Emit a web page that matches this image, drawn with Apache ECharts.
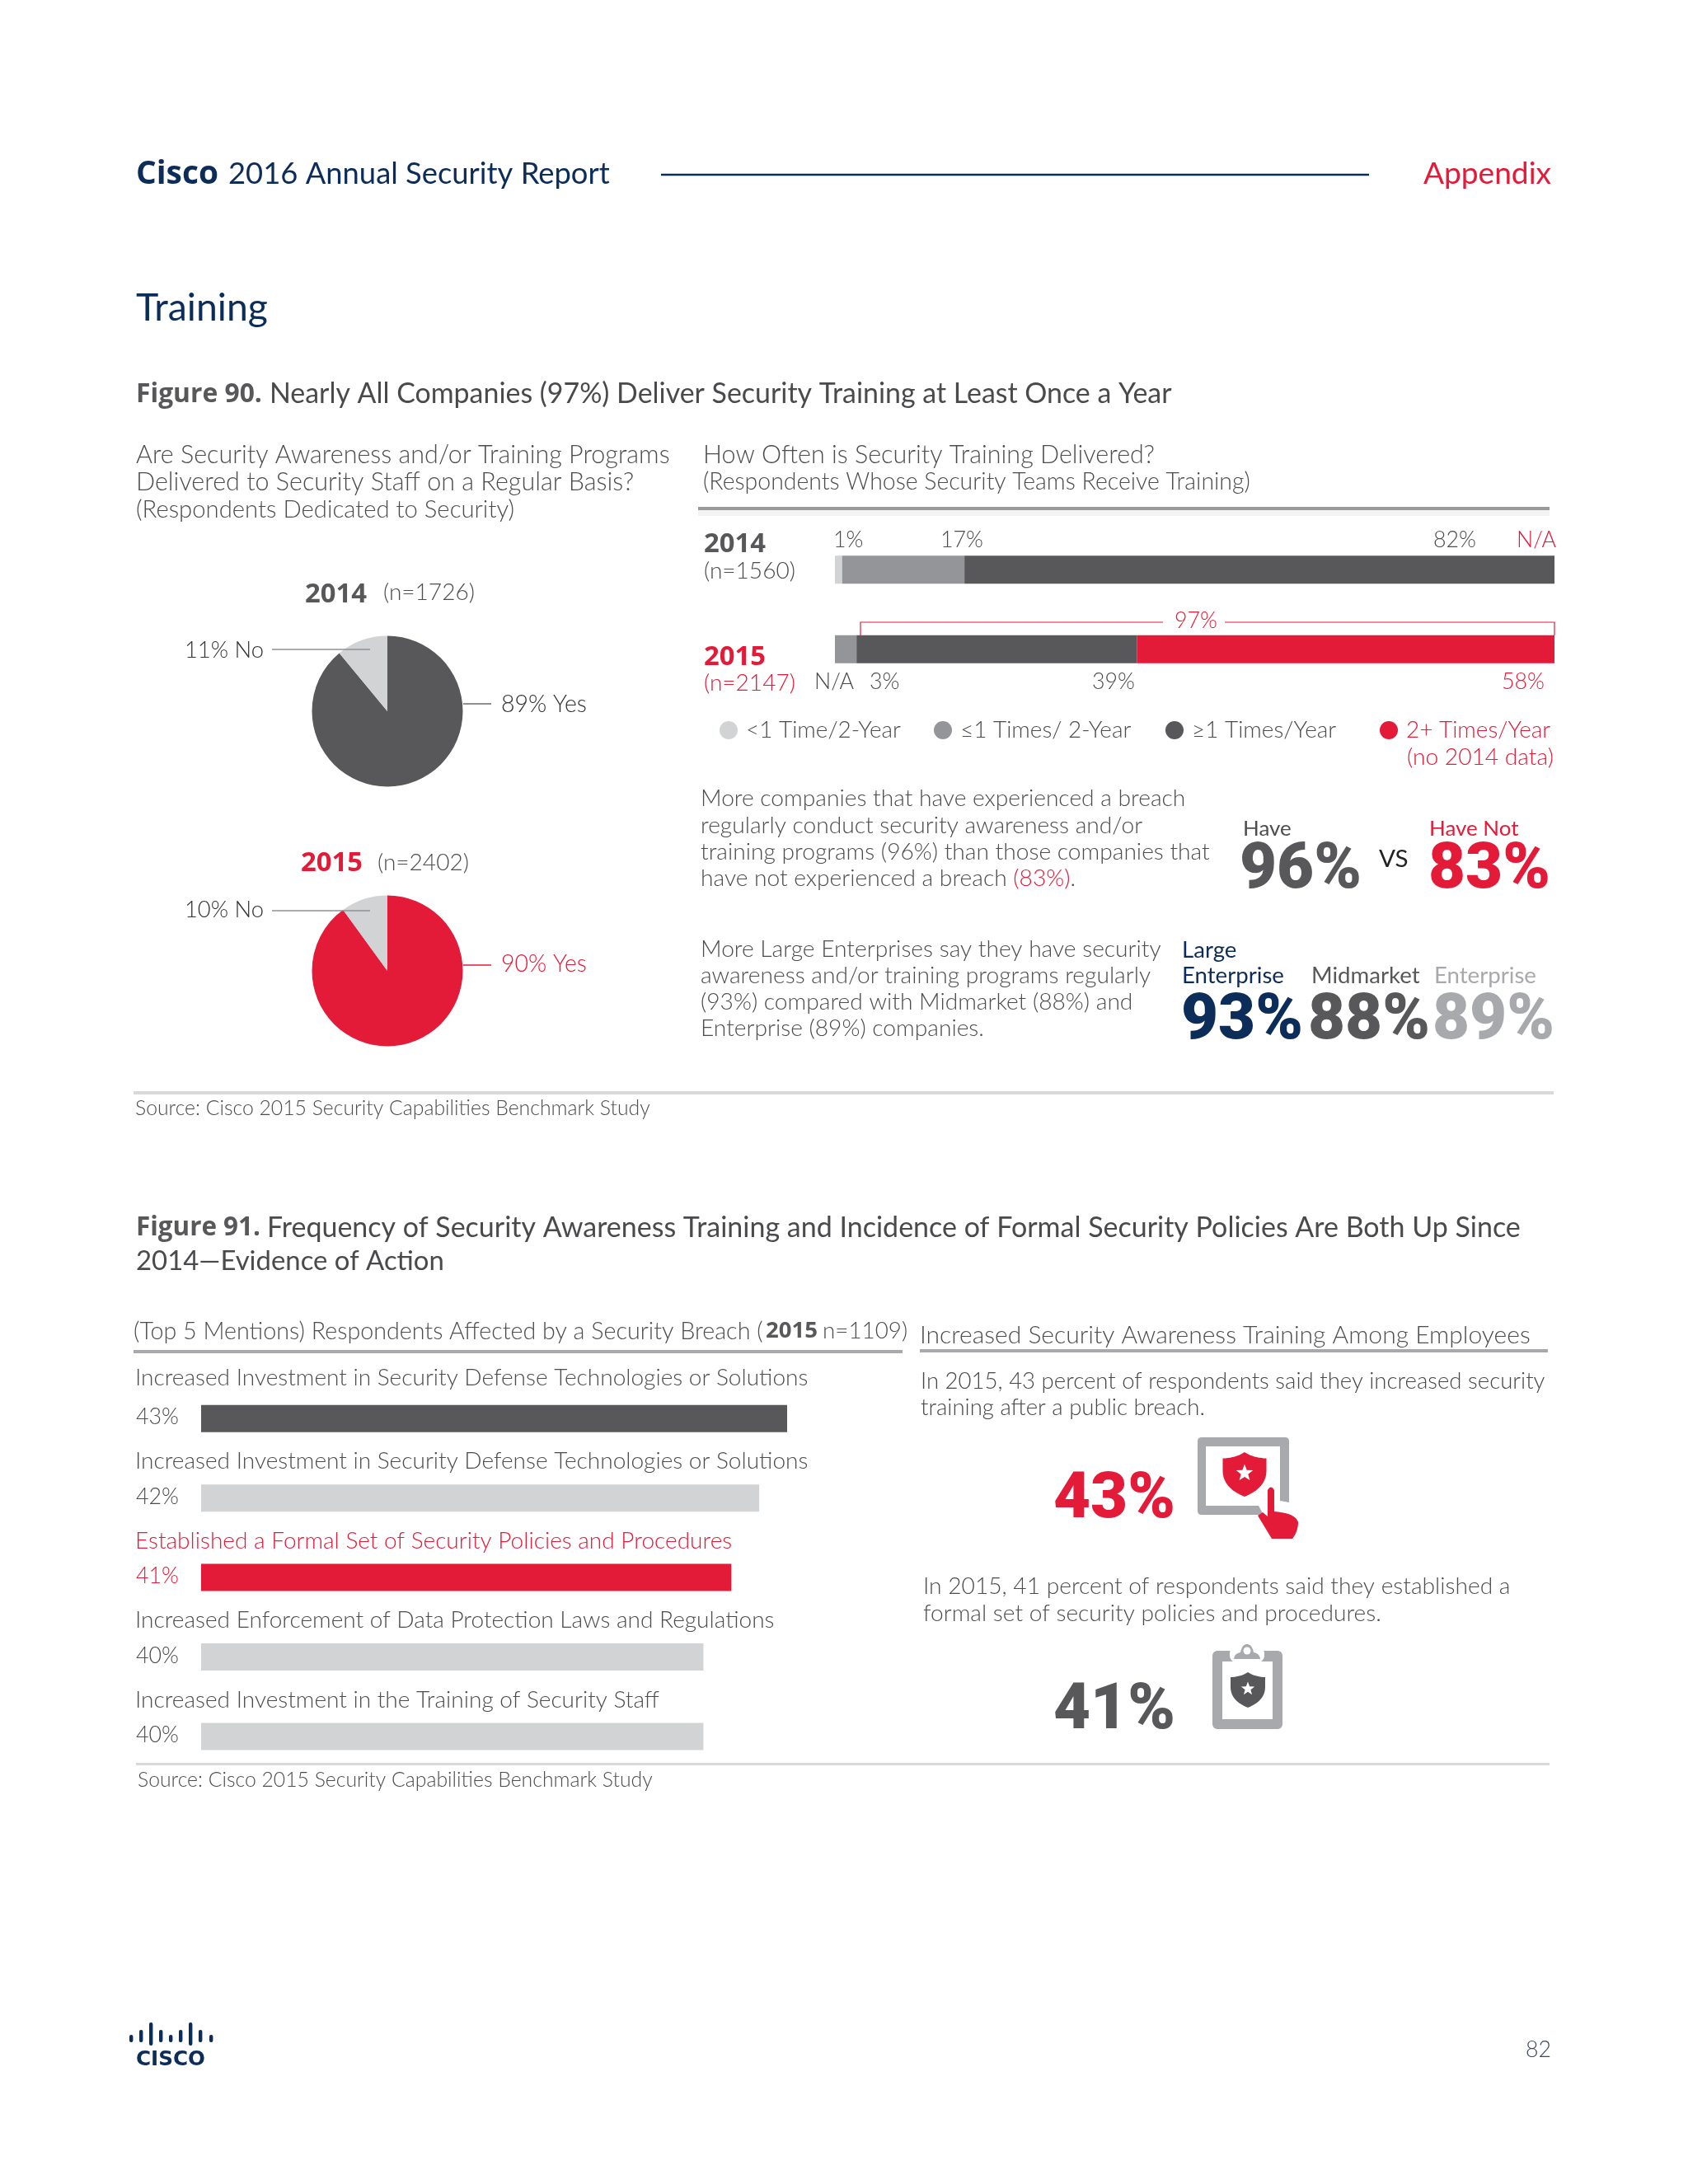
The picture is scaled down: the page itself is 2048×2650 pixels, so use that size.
<!DOCTYPE html>
<html><head><meta charset="utf-8">
<style>html,body{margin:0;padding:0;background:#fff}#c{width:2048px;height:2650px}</style>
<script src="https://cdn.jsdelivr.net/npm/echarts@6/dist/echarts.min.js"></script>
</head><body><div id="c"></div>
<script>
// ---- data ----
const pieNames = ['Yes', 'No'];
const pie2014 = [89, 11];
const pie2015 = [90, 10];
const freqYears = ['2014', '2015'];
const freqNames = ['<1 Time/2-Year', '≤1 Times/ 2-Year', '≥1 Times/Year', '2+ Times/Year'];
const freqLess = [1, 0];
const freqOne = [17, 3];
const freqYear = [82, 39];
const freqTwo = [null, 58];
const mentionNames = [
  'Increased Investment in Security Defense Technologies or Solutions',
  'Increased Investment in Security Defense Technologies or Solutions',
  'Established a Formal Set of Security Policies and Procedures',
  'Increased Enforcement of Data Protection Laws and Regulations',
  'Increased Investment in the Training of Security Staff'];
const mentionValues = [43, 42, 41, 40, 40];
const para1 = ['More companies that have experienced a breach','regularly conduct security awareness and/or','training programs (96%) than those companies that'];
const para2 = ['More Large Enterprises say they have security','awareness and/or training programs regularly','(93%) compared with Midmarket (88%) and','Enterprise (89%) companies.'];

// ---- style ----
const RED='#e31a38', DARK='#58585b', MID='#939598', LIGHT='#d1d3d4', NAVY='#0c2c5a', TXT='#4d4d50', GREY='#a7a9ac';
const BODY='Lato', HEAVY='Roboto', BOLD='"Open Sans"';
const ctx=document.createElement('canvas').getContext('2d');
function fit(text,width,fam=BODY,w=300){ctx.font=`${w} 100px ${fam}`;return 100*width/ctx.measureText(text).width;}
const g=[];
function T(text,x,y,o={}){
  const wt=o.w||300;
  g.push({type:'text',silent:true,z:100,x,y:y+(wt===300?0.3:1.5),style:Object.assign({text,fill:o.fill||TXT,fontFamily:o.fam||BODY,fontWeight:wt,
    fontSize:o.size||(o.width?fit(text,o.width,o.fam||BODY,wt):27),align:o.align||'left',verticalAlign:'middle'},o.rich?{rich:o.rich}:{})});
}
function R(x,y,w,h,fill,r){g.push({type:'rect',silent:true,z:100,shape:{x,y,width:w,height:h,r:r||0},style:{fill}});}
function L(pts,stroke,lw=1.5){g.push({type:'polyline',silent:true,z:100,shape:{points:pts},style:{stroke,lineWidth:lw,fill:null}});}
// outline made of straight and quadratic pieces, flattened into polygon points
function outline(d){
  const tok=d.trim().split(/\s+/);let i=0,pts=[],cx=0,cy=0;
  while(i<tok.length){
    const c=tok[i][0];
    if(c==='Z'){i++;continue;}
    const a=parseFloat(tok[i].slice(1)),b=parseFloat(tok[i+1]);
    if(c==='M'||c==='L'){pts.push([a,b]);cx=a;cy=b;i+=2;}
    else if(c==='Q'){const x=parseFloat(tok[i+2]),y=parseFloat(tok[i+3]);
      for(let k=1;k<=10;k++){const t=k/10,u=1-t;pts.push([u*u*cx+2*u*t*a+t*t*x,u*u*cy+2*u*t*b+t*t*y]);}
      cx=x;cy=y;i+=4;}
  }
  return pts;
}
function P(d,fill,z=100){g.push({type:'polygon',silent:true,z,shape:{points:outline(d)},style:{fill}});}
function star(cx,cy,r){let p=[];for(let i=0;i<10;i++){const a=-Math.PI/2+i*Math.PI/5,q=i%2?r*0.42:r;p.push([cx+q*Math.cos(a),cy+q*Math.sin(a)]);}
  g.push({type:'polygon',silent:true,z:103,shape:{points:p},style:{fill:'#fff'}});}
function shield(cx,top,w,h,fill){const x=cx-w/2,y=top;
  P(`M${cx} ${y} Q${cx+w*0.2} ${y+h*0.13} ${x+w} ${y+h*0.14} L${x+w} ${y+h*0.42} Q${x+w} ${y+h*0.8} ${cx} ${y+h} Q${x} ${y+h*0.8} ${x} ${y+h*0.42} L${x} ${y+h*0.14} Q${cx-w*0.2} ${y+h*0.13} ${cx} ${y} Z`,fill,102);
  star(cx,y+h*0.47,h*0.2);}

// ---- header ----
T('Cisco',165,210,{fam:BOLD,w:700,fill:NAVY,width:100});
T('2016 Annual Security Report',277,210,{fill:NAVY,width:463,w:400});
L([[802,212],[1661,212]],NAVY,2.5);
T('Appendix',1882,210,{align:'right',fill:RED,width:155,w:400});
T('Training',165,373,{fill:NAVY,width:160,w:400});

// ---- figure 90 ----
T('Figure 90.',165,477,{fam:BOLD,w:700,fill:DARK,width:153});
T('Nearly All Companies (97%) Deliver Security Training at Least Once a Year',327,477,{width:1095,w:400,fill:'#4a4a4d'});
const qs=fit('Are Security Awareness and/or Training Programs',648);
T('Are Security Awareness and/or Training Programs',165,552,{size:qs});
T('Delivered to Security Staff on a Regular Basis?',165,585,{size:qs});
T('(Respondents Dedicated to Security)',165,618,{size:qs*0.96});
T('How Often is Security Training Delivered?',853,552,{size:qs});
T('(Respondents Whose Security Teams Receive Training)',853,585,{width:664});
R(847,615,1033,4,'#9a9a9a');R(847,619,1033,7,'#f3f3f3');

// pie annotations
const yw=fit('2014',75,BOLD,700), ns=fit('(n=1726)',111);
T('2014',370,720,{fam:BOLD,w:700,fill:DARK,size:yw});T('(n=1726)',465,719,{size:ns});
T('2015',365,1046,{fam:BOLD,w:700,fill:RED,size:yw});T('(n=2402)',458,1047,{size:ns});
const ps=fit('89% Yes',104), pn=fit('11% No',96);
T('11% No',224,789,{size:pn,fill:'#333'});L([[330,788],[449,788]],'#8f9194');
T('89% Yes',608,855,{size:ps,fill:'#333'});L([[562,854],[596,854]],'#6a6a6d');
T('10% No',224,1104,{size:pn,fill:'#333'});L([[330,1105],[449,1105]],'#8f9194');
T('90% Yes',608,1170,{size:ps,fill:RED});L([[562,1171],[596,1171]],RED);

// bar annotations
T(freqYears[0],854,659,{fam:BOLD,w:700,fill:DARK,size:yw});T('(n=1560)',854,693,{size:ns});
T(freqYears[1],854,796,{fam:BOLD,w:700,fill:RED,size:yw});T('(n=2147)',854,829,{size:ns,fill:RED});
const ls=fit('39%',52);
T('1%',1011,655,{size:ls});T('17%',1141,655,{size:ls});T('82%',1739,655,{size:ls});T('N/A',1888,655,{size:ls,fill:RED,align:'right'});
T('N/A',988,827,{size:ls});T('3%',1055,827,{size:ls});T('39%',1325,827,{size:ls});T('58%',1822,827,{size:ls,fill:RED});
T('97%',1451,753,{size:ls,fill:RED,align:'center'});
L([[1044,771],[1044,755],[1411,755]],RED,1.2);L([[1486,755],[1886,755],[1886,771]],RED,1.2);
T('(no 2014 data)',1707,919,{width:178,fill:RED});

// paragraphs
const p1=fit(para1[2],618);
para1.forEach((s,i)=>T(s,850,969+i*32.4,{size:p1}));
T('{a|have not experienced a breach }{b|(83%)}{a|.}',850,1066,{size:p1,rich:{a:{fill:TXT,fontFamily:BODY,fontWeight:300,fontSize:p1},b:{fill:RED,fontFamily:BODY,fontWeight:300,fontSize:p1}}});
const big=fit('96%',148,HEAVY,900);
T('Have',1508,1004,{w:400,size:p1*0.92});T('Have Not',1734,1004,{w:400,size:p1*0.92,fill:RED});
T('96%',1504,1056,{fam:HEAVY,w:900,size:big,fill:DARK});
T('VS',1673,1041,{w:400,size:p1*1.05,fill:'#222'});
T('83%',1733,1056,{fam:HEAVY,w:900,size:big,fill:RED});
para2.forEach((s,i)=>T(s,850,1152+i*32,{size:p1}));
T('Large',1434,1152,{w:400,size:p1*0.98,fill:NAVY});
T('Enterprise',1434,1183,{w:400,size:p1*0.98,fill:NAVY});
T('Midmarket',1591,1183,{w:400,size:p1*0.98,fill:DARK});
T('Enterprise',1740,1183,{w:400,size:p1*0.98,fill:GREY});
T('93%',1433,1239,{fam:HEAVY,w:900,size:big,fill:NAVY});
T('88%',1587,1239,{fam:HEAVY,w:900,size:big,fill:DARK});
T('89%',1738,1239,{fam:HEAVY,w:900,size:big,fill:GREY});
R(162,1324,1723,4,'#d9d9db');
const srcS=fit('Source: Cisco 2015 Security Capabilities Benchmark Study',625);
T('Source: Cisco 2015 Security Capabilities Benchmark Study',164,1345,{size:srcS});

// ---- figure 91 ----
T('Figure 91.',165,1489,{fam:BOLD,w:700,fill:DARK,width:151});
T('Frequency of Security Awareness Training and Incidence of Formal Security Policies Are Both Up Since',324,1489,{width:1521,w:400,fill:'#4a4a4d'});
T('2014—Evidence of Action',165,1529,{width:374,w:400,fill:'#4a4a4d'});
const hs=fit('(Top 5 Mentions) Respondents Affected by a Security Breach (',764);
T('(Top 5 Mentions) Respondents Affected by a Security Breach (',162,1615,{size:hs});
T('2015',929,1614,{fam:BOLD,w:700,fill:DARK,width:63});
T('n=1109)',998,1615,{size:hs*0.97});
R(162,1638,933,4,GREY);
T('Increased Security Awareness Training Among Employees',1116,1620,{width:741});
R(1116,1637,762,4,GREY);
const ms=fit(mentionNames[0],817);
const nameY=[1672,1773,1870,1966,2063];
mentionNames.forEach((s,i)=>T(s,164,nameY[i],{size:ms,fill:i===2?RED:TXT}));
const ts=fit('In 2015, 43 percent of respondents said they increased security',758);
T('In 2015, 43 percent of respondents said they increased security',1117,1676,{size:ts,fill:'#48484b'});
T('training after a public breach.',1117,1708,{size:ts,fill:'#48484b'});
const ts2=fit('In 2015, 41 percent of respondents said they established a',713);
T('In 2015, 41 percent of respondents said they established a',1120,1925,{size:ts2});
T('formal set of security policies and procedures.',1120,1958,{size:ts2});
T('43%',1278,1820,{fam:HEAVY,w:900,size:big,fill:RED});
T('41%',1278,2076,{fam:HEAVY,w:900,size:big,fill:DARK});
// tablet icon
P('M1527 1838 L1458 1838 Q1453 1838 1453 1833 L1453 1749 Q1453 1744 1458 1744 L1559 1744 Q1564 1744 1564 1749 L1564 1823 L1553 1821 L1553 1755 L1463 1755 L1463 1827 L1527 1827 L1533 1838 Z',GREY);
shield(1510,1762,53,54,RED);
P('M1538 1808 Q1542 1801 1546 1808 L1546 1834 Q1572 1836 1575 1847 Q1575 1858 1568 1867 L1543 1867 L1526 1839 L1532 1835 L1538 1840 Z',RED,103);
// clipboard icon
P('M1478 2003 L1549 2003 Q1556 2003 1556 2010 L1556 2091 Q1556 2098 1549 2098 L1478 2098 Q1471 2098 1471 2091 L1471 2010 Q1471 2003 1478 2003 Z',GREY);
g.push({type:'rect',silent:true,z:101,shape:{x:1483,y:2016,width:61,height:70},style:{fill:'#fff'}});
g.push({type:'rect',silent:true,z:101,shape:{x:1492,y:1998,width:42,height:19,r:8},style:{fill:'#fff'}});
P('M1497 2013 Q1498 2006 1505 2005 Q1507 1995 1513 1995 Q1519 1995 1521 2005 Q1528 2006 1529 2013 Z',GREY,102);
g.push({type:'circle',silent:true,z:103,shape:{cx:1513,cy:2003,r:4.5},style:{fill:'#fff'}});
shield(1514,2029,42,43,DARK);
R(165,2139,1715,3,'#d9d9db');
T('Source: Cisco 2015 Security Capabilities Benchmark Study',167,2160,{size:srcS});

// ---- footer ----
const logoX=[159,171,183,195,207,219,231,243,256], logoT=[2469,2463,2454,2463,2469,2463,2454,2463,2469], logoB=[2478,2478,2482,2478,2478,2478,2482,2478,2478];
logoX.forEach((x,i)=>R(x-2,logoT[i],4.4,logoB[i]-logoT[i],NAVY,2));
T('CISCO',207,2498,{fam:'"DejaVu Sans"',w:700,fill:NAVY,width:84,align:'center'});
T('82',1882,2487,{align:'right',fill:'#3f4a5a',width:31,w:300});

// ---- chart ----
const legendStyle=(left,top,name,fill)=>({left,top,padding:0,itemWidth:22,itemHeight:22,itemGap:0,icon:'circle',selectedMode:false,orient:'horizontal',
  data:[name],textStyle:{color:fill,fontFamily:BODY,fontWeight:300,fontSize:fit(freqNames[0],188),padding:[0,0,0,5]}});
const stackSeries=(name,values,color)=>({name,type:'bar',stack:'f',xAxisIndex:0,yAxisIndex:0,barWidth:34,data:values,itemStyle:{color},silent:true});
const pieSeries=(center,values,color)=>({type:'pie',center,radius:91.5,startAngle:90,clockwise:true,silent:true,label:{show:false},labelLine:{show:false},
  data:pieNames.map((n,i)=>({name:n,value:values[i],itemStyle:{color:i?LIGHT:color}}))});
const barFill=[DARK,LIGHT,RED,LIGHT,LIGHT];
const barLabel=fit('43%',52);
const chart=echarts.init(document.getElementById('c'),null,{renderer:'canvas',width:2048,height:2650});
chart.setOption({
  animation:false,backgroundColor:'#fff',
  grid:[{left:1013,top:643,width:873,height:193},{left:244,top:1673.1,width:711,height:482}],
  xAxis:[{gridIndex:0,type:'value',min:0,max:100,show:false},{gridIndex:1,type:'value',min:22,max:43,show:false}],
  yAxis:[{gridIndex:0,type:'category',inverse:true,data:freqYears,show:false},{gridIndex:1,type:'category',inverse:true,data:mentionNames.map((n,i)=>i+': '+n),show:false}],
  legend:[legendStyle(873,872,freqNames[0],TXT),legendStyle(1133,872,freqNames[1],TXT),legendStyle(1414,872,freqNames[2],TXT),legendStyle(1674,872,freqNames[3],RED)],
  series:[
    pieSeries([470,863],pie2014,DARK),
    pieSeries([470,1178],pie2015,RED),
    stackSeries(freqNames[0],freqLess,LIGHT),
    stackSeries(freqNames[1],freqOne,MID),
    stackSeries(freqNames[2],freqYear,DARK),
    stackSeries(freqNames[3],freqTwo,RED),
    {type:'bar',xAxisIndex:1,yAxisIndex:1,barWidth:33,silent:true,
     data:mentionValues.map((v,i)=>({value:v,itemStyle:{color:barFill[i]},label:{color:i===2?RED:TXT}})),
     label:{show:true,position:'left',distance:27,offset:[0,-1.5],formatter:'{c}%',fontFamily:BODY,fontWeight:300,fontSize:barLabel}}
  ],
  graphic:{elements:g}
});
</script></body></html>
